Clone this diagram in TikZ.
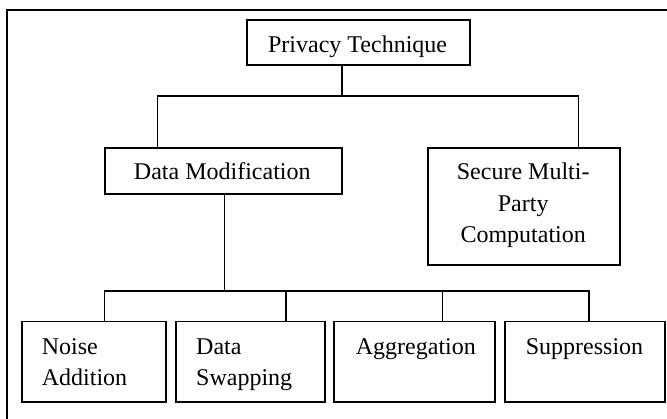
\documentclass[tikz,border=0pt]{standalone}
\usepackage{fontspec}
\setmainfont{Liberation Serif}
\begin{document}
\begin{tikzpicture}[x=1pt, y=-1pt,
  box/.style={draw, line width=1.8pt, rectangle, inner sep=0pt, anchor=north west},
  txt/.style={inner sep=0pt, font=\fontsize{24}{31.5}\selectfont},
  link/.style={line width=1.6pt},
  frameline/.style={line width=2pt}]
\useasboundingbox (0,0) rectangle (667,419);

% outer frame (only its top and left sides fall inside the page)
\draw[frameline] (7,419) -- (7,10) -- (667,10);

% boxes
\node[box, minimum width=223.3pt, minimum height=45pt]  (pt) at (245.7,19.3) {};
\node[box, minimum width=236.7pt, minimum height=46pt]  (dm) at (104,147.3) {};
\node[box, minimum width=191.7pt, minimum height=116.7pt] (smc) at (427.3,147.3) {};
\node[box, minimum width=144.6pt, minimum height=80.3pt] (na) at (20.7,320.7) {};
\node[box, minimum width=149pt,   minimum height=80.3pt] (ds) at (175,320.7) {};
\node[box, minimum width=161.3pt, minimum height=80.3pt] (ag) at (332.7,320.7) {};
\node[box, minimum width=159.7pt, minimum height=80.3pt] (su) at (504.3,320.7) {};

% labels (multi-line labels are placed by the baseline of their last line)
\node[txt, anchor=base] at (357.6,52.3) {Privacy Technique};
\node[txt, anchor=base] at (222.3,180) {Data Modification};
\node[txt, anchor=base, align=center] at (523.2,242.7) {Secure Multi-\\Party\\Computation};
\node[txt, anchor=base west, align=left] at (41.7,386) {Noise\\Addition};
\node[txt, anchor=base west, align=left] at (196,386) {Data\\Swapping};
\node[txt, anchor=base west] at (355.7,354.3) {Aggregation};
\node[txt, anchor=base west] at (525.7,354.3) {Suppression};

% first level connectors
\coordinate (j1) at (342,96);
\coordinate (b1) at (157.3,96);
\coordinate (b2) at (578.3,96);
\draw[link] (pt.south -| j1) -- (j1);
\draw[link] (dm.north -| b1) -- (b1) -- (b2) -- (smc.north -| b2);

% second level connectors
\coordinate (j2) at (224.3,291.3);
\coordinate (c1) at (104.3,291.3);
\coordinate (c2) at (285.7,291.3);
\coordinate (c3) at (442.5,291.3);
\coordinate (c4) at (588.7,291.3);
\draw[link] (dm.south -| j2) -- (j2);
\draw[link] (na.north -| c1) -- (c1) -- (c4) -- (su.north -| c4);
\draw[link] (c2) -- (ds.north -| c2);
\draw[link] (c3) -- (ag.north -| c3);
\end{tikzpicture}
\end{document}
